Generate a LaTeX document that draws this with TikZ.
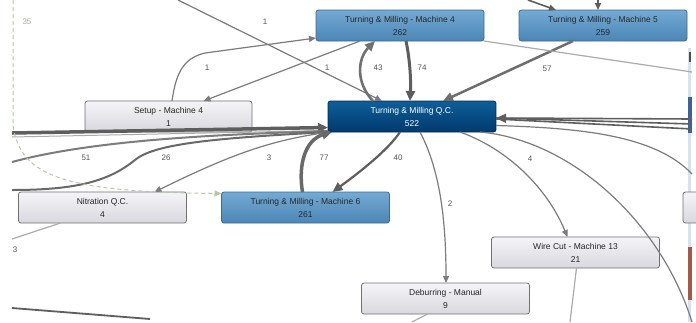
\documentclass[tikz,border=0pt]{standalone}
\usepackage{fontspec}
\setmainfont{Liberation Sans}
\usetikzlibrary{arrows.meta,calc}
\definecolor{bluetop}{HTML}{74AAD4}
\definecolor{bluebot}{HTML}{4B86B6}
\definecolor{bluebd}{HTML}{3D6A8E}
\definecolor{qctop}{HTML}{0E5E98}
\definecolor{qcbot}{HTML}{003A6E}
\definecolor{qcbd}{HTML}{002C55}
\definecolor{graytop}{HTML}{F5F4F8}
\definecolor{graybot}{HTML}{D9D8DE}
\definecolor{graybd}{HTML}{707070}
\definecolor{edgeM}{HTML}{7C7C7C}
\definecolor{edgeD}{HTML}{5E5E5E}
\definecolor{edgeL}{HTML}{ABABAB}
\definecolor{lblc}{HTML}{555555}
\definecolor{dashc}{HTML}{B9C7A9}
\definecolor{lbl35}{HTML}{A3AC94}
\definecolor{edgeblue}{HTML}{D6E3EF}
\definecolor{edgedark}{HTML}{3E6294}
\definecolor{edgered}{HTML}{A35A4A}
\begin{document}
\begin{tikzpicture}[x=1pt,y=-1pt,
  box/.style={rounded corners=2.5pt, minimum width=168pt, minimum height=31pt, inner sep=0pt, outer sep=0pt, align=center, font=\fontsize{8.5}{13}\selectfont, text=black!85, line width=0.8pt},
  bluebox/.style={box, draw=bluebd, top color=bluetop, bottom color=bluebot},
  qcbox/.style={box, draw=qcbd, top color=qctop, bottom color=qcbot, text=white},
  graybox/.style={box, draw=graybd, top color=graytop, bottom color=graybot},
  lbl/.style={font=\fontsize{8}{8}\selectfont, text=lblc, inner sep=0pt},
  tipS/.style={-{Triangle[length=7pt,width=6pt]}},
  tipL/.style={-{Triangle[length=10pt,width=9pt]}},
  eg/.style={draw=edgeM, line width=1.2pt},
  el/.style={draw=edgeL, line width=1.2pt},
  ed/.style={draw=edgeD, line width=1.6pt},
]
\useasboundingbox (0,0) rectangle (696,322);
\fill[white] (0,0) rectangle (696,322);

% right edge panel bits
\fill[edgeblue] (688,48) rectangle (691,322);
\fill[edgedark] (688,97) rectangle (692,133);
\fill[edgered] (688,247) rectangle (692,300);
\fill[black!70] (689,52) rectangle (691,62);

% nodes
\node[bluebox] (tm4) at (400,25.5) {Turning \& Milling - Machine 4\\262};
\node[bluebox] (tm5) at (603,25.5) {Turning \& Milling - Machine 5\\259};
\node[qcbox] (qc) at (412,116.5) {Turning \& Milling Q.C.\\522};
\node[graybox, minimum width=167pt] (setup) at (168.5,116.5) {Setup - Machine 4\\1};
\node[graybox] (nitr) at (102.5,207.5) {Nitration Q.C.\\4};
\node[bluebox] (tm6) at (305.5,207.5) {Turning \& Milling - Machine 6\\261};
\node[graybox] (wc) at (575.5,252.5) {Wire Cut - Machine 13\\21};
\node[graybox] (deb) at (445.5,298.5) {Deburring - Manual\\9};
\node[graybox, anchor=west] (rnode) at (683,207.5) {};

% free ends
\coordinate (f1) at (178,0);
\coordinate (f2) at (528,0);
\coordinate (f3) at (598,-2);
\coordinate (r1) at (692,72);
\coordinate (r2) at (692,119);
\coordinate (r3) at (692,124);
\coordinate (r4) at (692,129);
\coordinate (r5) at (692,174);
\coordinate (r6) at (692,322);
\coordinate (l1) at (12,133);
\coordinate (l2) at (12,137);
\coordinate (l3) at (12,162);
\coordinate (l4) at (12,190);
\coordinate (l5) at (12,239);
\coordinate (l6) at (12,308);
\coordinate (b1) at (150,319);
\coordinate (b2) at (570,322);
\coordinate (b3) at (412,322);
\coordinate (d0) at (13,0);

% edges top
\draw[eg, tipS] (f1) -- ($(qc.north west)+(54,0)$);
\draw[eg, tipS] ($(setup.north)+(3.5,0)$) .. controls (176,72) and (184,58) .. (205,53) -- ($(tm4.west)+(0,12.5)$);
\draw[eg, tipS] ($(tm4.south west)+(44,0)$) -- ($(setup.north)+(35,0)$);
\draw[draw=edgeM!90!black, line width=2.6pt, tipL] ($(qc.north west)+(45,0)$) .. controls (355,82) and (358,58) .. ($(tm4.south)+(-25,0)$);
\draw[draw=edgeD, line width=3pt, tipL] ($(tm4.south)+(6,0)$) .. controls (410,60) and (411,80) .. ($(qc.north)+(-2,0)$);
\draw[draw=edgeD!90!white, line width=2.5pt, tipL] ($(tm5.south)+(-30,0)$) -- ($(qc.north)+(31,0)$);
\draw[el] (tm4.south east) -- (r1);
\draw[ed, tipS] (f2) -- ($(tm5.north west)+(37,0)$);
\draw[ed, tipS] (f3) -- ($(tm5.north)+(-5,0)$);

% edges from left into QC
\draw[el, line width=1pt] (l2) -- ($(qc.west)+(0,14)$);
\draw[draw=edgeD, line width=3.5pt, tipL] (l1) -- ($(qc.west)+(0,11)$);
\draw[draw=edgeM, line width=2pt] (l3) .. controls (100,138) and (240,134) .. ($(qc.south west)+(0,-1)$);
\draw[draw=edgeM!85!black, line width=2pt] (l4) .. controls (80,190) and (110,180) .. (135,160) .. controls (155,143) and (220,138) .. ($(qc.south west)+(0,0)$);
\draw[eg, tipS] ($(qc.south west)+(2,0)$) .. controls (270,140) and (230,155) .. ($(nitr.north)+(52,0)$);
\draw[draw=edgeM!85!black, line width=3.5pt, tipL] ($(tm6.north)+(-3,0)$) .. controls (298,165) and (305,140) .. ($(qc.south west)+(4,0)$);
\draw[draw=edgeD, line width=2.2pt, tipL] ($(qc.south)+(-12,0)$) .. controls (388,150) and (360,172) .. ($(tm6.north east)+(-57,0)$);

% edges below QC
\draw[eg, tipS] ($(qc.south)+(8,0)$) .. controls (440,170) and (446,220) .. ($(deb.north)+(0.5,0)$);
\draw[eg, tipS] ($(qc.south)+(48,0)$) .. controls (510,150) and (548,190) .. ($(wc.north)+(-8,0)$);
\draw[eg] ($(qc.east)+(0,9)$) .. controls (580,128) and (655,135) .. (r5);
\draw[eg] ($(qc.south east)+(-16,0)$) .. controls (570,140) and (660,220) .. (r6);

% edges from right into QC
\draw[ed] (r2) -- ($(qc.east)+(0,1.5)$);
\draw[ed] (r4) -- ($(qc.east)+(0,2.5)$);
\draw[ed, tipL] (r3) -- ($(qc.east)+(0,1.5)$);

% misc lines
\draw[el] ($(nitr.south west)+(42,0)$) -- (l5);
\draw[draw=edgeD, line width=1.8pt] (l6) -- (b1);
\draw[el] ($(wc.south)+(1,0)$) -- (b2);
\draw[el] ($(deb.south)+(-18,0)$) -- (b3);

% dashed
\draw[draw=dashc, line width=1pt, dash pattern=on 4pt off 3pt, -{Triangle[length=7pt,width=6pt,fill=dashc]}] (d0) -- (13,125) .. controls (20,175) and (60,192) .. ($(tm6.west)+(0,-14)$);

% labels
\node[lbl] (n1a) at (265,22) {1};
\node[lbl] (n1b) at (207,68) {1};
\node[lbl] (n1c) at (327,68) {1};
\node[lbl] (n43) at (378,68) {43};
\node[lbl] (n74) at (422,68) {74};
\node[lbl] (n57) at (547,69) {57};
\node[lbl] (n51) at (86,158) {51};
\node[lbl] (n26) at (166,158) {26};
\node[lbl] (n3a) at (269,158) {3};
\node[lbl] (n77) at (324,158) {77};
\node[lbl] (n40) at (398,158) {40};
\node[lbl] (n4) at (530,159) {4};
\node[lbl] (n2) at (450,204) {2};
\node[lbl] (n3b) at (15,250) {3};
\node[lbl, text=lbl35] (n35) at (27,22) {35};
\end{tikzpicture}
\end{document}
